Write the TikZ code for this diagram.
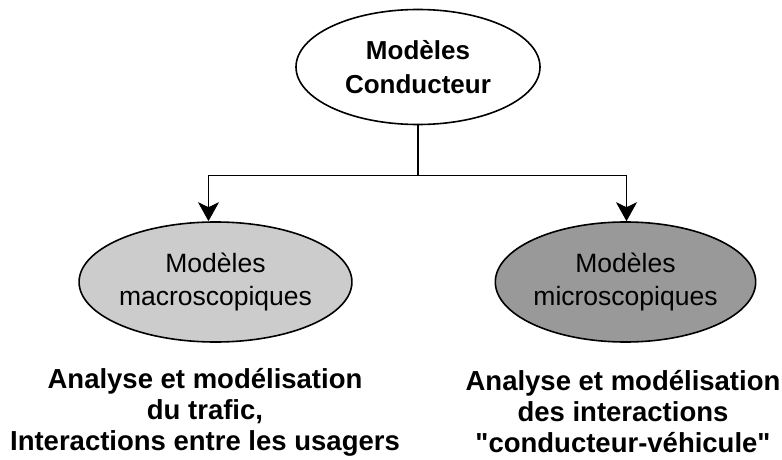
\documentclass[tikz,border=0pt]{standalone}
\usepackage{fontspec}
\setmainfont{Liberation Sans}[Ligatures=TeXOff]
\usetikzlibrary{shapes.geometric,arrows.meta,calc}
\definecolor{macrofill}{RGB}{204,204,204}
\definecolor{microfill}{RGB}{153,153,153}
\tikzset{
  model/.style={ellipse, draw=black, line width=1.6pt, inner sep=0pt,
    minimum width=245pt, minimum height=120pt, align=center,
    font=\fontsize{26.5}{33}\selectfont},
  caption/.style={align=center, inner sep=0pt,
    font=\fontsize{27.5}{31}\selectfont\bfseries},
  link/.style={line width=1.6pt, -{Stealth[length=19pt,width=21pt,inset=5pt]}}
}
\begin{document}
\begin{tikzpicture}[x=1pt,y=1pt]
  \useasboundingbox (0,0) rectangle (782,459);
  \node[model, fill=white, minimum width=244pt, minimum height=115pt,
        font=\fontsize{26}{34}\selectfont\bfseries]
    (root) at (418,392) {Modèles\\Conducteur};
  \node[model, fill=macrofill] (macro) at (215.5,177) {Modèles\\macroscopiques};
  \node[model, fill=microfill] (micro) at (625.5,177) {Modèles\\microscopiques};
  \coordinate (fork) at ($(root.south)+(0,-50)$);
  \draw[line width=1.6pt] (root.south) -- (fork);
  \draw[link] (fork) -| ([xshift=-7pt]macro.north);
  \draw[link] (fork) -| ([xshift=1pt]micro.north);
  \node[caption] (macrotext) at (205,47)
    {Analyse et modélisation\\du trafic,\\Interactions entre les usagers};
  \node[caption] (microtext) at (623,47)
    {Analyse et modélisation\\des interactions\\"conducteur-véhicule"};
\end{tikzpicture}
\end{document}
